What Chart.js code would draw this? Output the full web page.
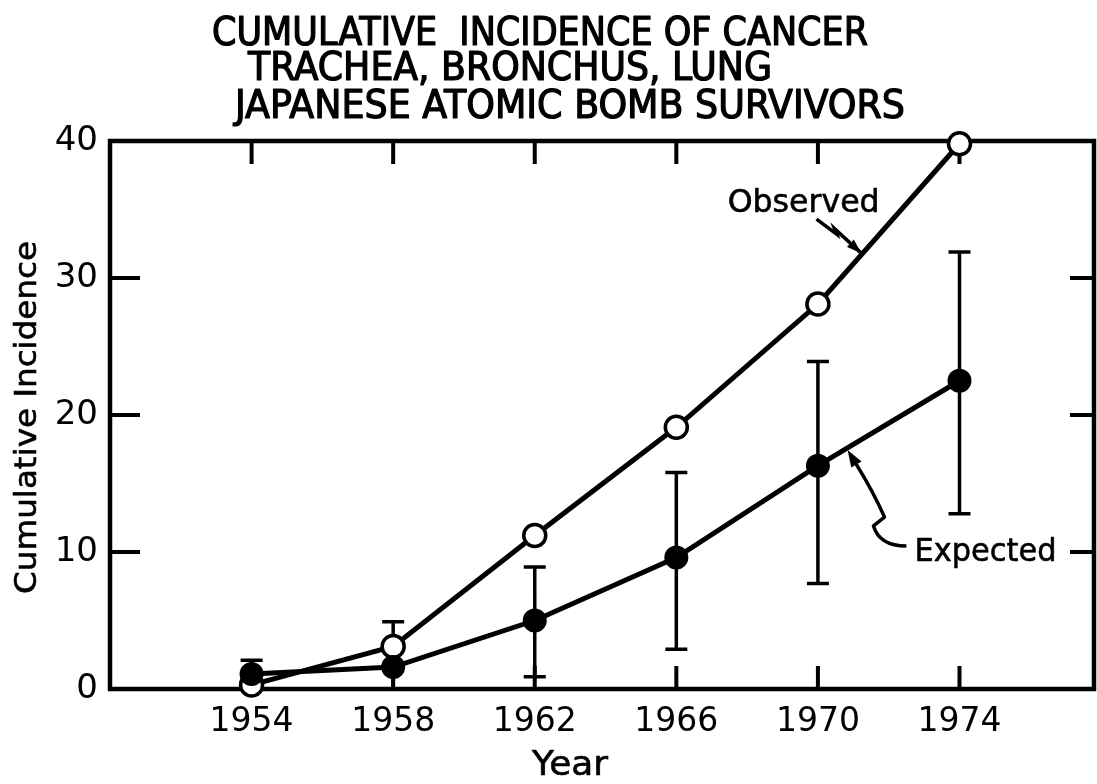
<!DOCTYPE html>
<html>
<head>
<meta charset="utf-8">
<script src="https://cdn.jsdelivr.net/npm/chart.js@4/dist/chart.umd.min.js"></script>
<style>
  html, body { margin: 0; padding: 0; background: #fff; }
  canvas { display: block; }
</style>
</head>
<body>
<canvas id="myChart" width="1097" height="784"></canvas>
<script>
// data
var years = [1954, 1958, 1962, 1966, 1970, 1974];
var observed = [0.3, 3.1, 11.2, 19.1, 28.1, 39.8];
var expected = [1.1, 1.6, 5.0, 9.6, 16.3, 22.5];
var expLow = [0, 0, 0.9, 2.9, 7.7, 12.8];
var expHigh = [2.1, 4.9, 8.9, 15.8, 23.9, 31.9];
var yearTicks = [1954, 1958, 1962, 1966, 1970, 1974];
var incTicks = [0, 10, 20, 30, 40];

var titleLines = [
  'CUMULATIVE  INCIDENCE OF CANCER',
  'TRACHEA, BRONCHUS, LUNG',
  'JAPANESE ATOMIC BOMB SURVIVORS'
];

var FONT = '"DejaVu Sans", sans-serif';

function pts(ys) {
  return years.map(function (yr, i) { return { x: yr, y: ys[i] }; });
}

// write text squeezed/stretched to a given width, optional outline to thicken it
function fitText(ctx, txt, x, y, w, thick) {
  var m = ctx.measureText(txt).width;
  ctx.save();
  ctx.translate(x, y);
  ctx.scale(w / m, 1);
  ctx.fillText(txt, 0, 0);
  if (thick) {
    ctx.lineWidth = thick;
    ctx.lineJoin = 'round';
    ctx.strokeText(txt, 0, 0);
  }
  ctx.restore();
}

function arrowHead(ctx, fx, fy, tx, ty, len, half) {
  var a = Math.atan2(ty - fy, tx - fx);
  ctx.beginPath();
  ctx.moveTo(tx, ty);
  ctx.lineTo(tx - len * Math.cos(a) + half * Math.sin(a), ty - len * Math.sin(a) - half * Math.cos(a));
  ctx.lineTo(tx - len * Math.cos(a) - half * Math.sin(a), ty - len * Math.sin(a) + half * Math.cos(a));
  ctx.closePath();
  ctx.fill();
}

var decor = {
  id: 'decor',
  beforeDatasetsDraw: function (chart) {
    var ctx = chart.ctx, a = chart.chartArea, x = chart.scales.x, y = chart.scales.y;
    ctx.save();
    ctx.strokeStyle = '#000';
    ctx.lineCap = 'butt';
    // frame
    ctx.lineWidth = 4.5;
    ctx.strokeRect(a.left, a.top, a.right - a.left, a.bottom - a.top);
    // inward ticks on all four sides
    ctx.lineWidth = 4;
    ctx.beginPath();
    yearTicks.forEach(function (v) {
      var px = x.getPixelForValue(v);
      ctx.moveTo(px, a.top); ctx.lineTo(px, a.top + 23);
      ctx.moveTo(px, a.bottom); ctx.lineTo(px, a.bottom - 23);
    });
    incTicks.slice(1, -1).forEach(function (v) {
      var py = y.getPixelForValue(v);
      ctx.moveTo(a.left, py); ctx.lineTo(a.left + 30, py);
      ctx.moveTo(a.right, py); ctx.lineTo(a.right - 24, py);
    });
    ctx.stroke();
    // error bars on expected
    ctx.lineWidth = 3.5;
    ctx.beginPath();
    years.forEach(function (yr, i) {
      var px = x.getPixelForValue(yr);
      var lo = y.getPixelForValue(expLow[i]);
      var hi = y.getPixelForValue(expHigh[i]);
      ctx.moveTo(px, lo); ctx.lineTo(px, hi);
      ctx.moveTo(px - 11, hi); ctx.lineTo(px + 11, hi);
      ctx.moveTo(px - 11, lo); ctx.lineTo(px + 11, lo);
    });
    ctx.stroke();
    ctx.restore();
  },
  afterDraw: function (chart) {
    var ctx = chart.ctx, x = chart.scales.x, y = chart.scales.y;
    function at(xv, yv) { return [x.getPixelForValue(xv), y.getPixelForValue(yv)]; }
    ctx.save();
    ctx.fillStyle = '#000';
    ctx.strokeStyle = '#000';
    ctx.textBaseline = 'alphabetic';
    ctx.textAlign = 'left';

    // title, three staggered lines
    ctx.font = '39px "Liberation Sans Narrow", "DejaVu Sans Condensed", sans-serif';
    fitText(ctx, titleLines[0], 212, 45, 656, 1.2);
    fitText(ctx, titleLines[1], 248, 80, 524, 1.2);
    fitText(ctx, titleLines[2], 235, 118, 670, 1.2);

    // axis titles
    ctx.font = '33px ' + FONT;
    fitText(ctx, 'Year', 532, 775, 76, 0.6);
    ctx.save();
    ctx.translate(36, 418);
    ctx.rotate(-Math.PI / 2);
    ctx.font = '30px ' + FONT;
    fitText(ctx, 'Cumulative Incidence', -176, 0, 353, 0.6);
    ctx.restore();

    // series labels
    ctx.font = '32px ' + FONT;
    var o = at(1967.45, 34.8);
    fitText(ctx, 'Observed', o[0], o[1], 152, 0.6);
    var e = at(1972.73, 9.35);
    fitText(ctx, 'Expected', e[0], e[1], 142, 0.6);

    // observed leader with zigzag
    ctx.lineWidth = 3.5;
    ctx.lineJoin = 'miter';
    var p1 = at(1969.96, 34.3), p2 = at(1970.53, 33.2), p3 = at(1970.47, 33.6), p4 = at(1971.23, 31.8);
    ctx.beginPath();
    ctx.moveTo(p1[0], p1[1]); ctx.lineTo(p2[0], p2[1]); ctx.lineTo(p3[0], p3[1]); ctx.lineTo(p4[0], p4[1]);
    ctx.stroke();
    arrowHead(ctx, p3[0], p3[1], p4[0], p4[1], 15, 5);

    // expected leader, curly
    var q0 = at(1972.50, 10.44), c1 = at(1971.74, 10.44), q1 = at(1971.57, 11.9),
        q2 = at(1971.88, 12.55), c2 = at(1971.57, 14.38), q3 = at(1971.06, 16.5), tip = at(1970.84, 17.45);
    ctx.lineJoin = 'round';
    ctx.beginPath();
    ctx.moveTo(q0[0], q0[1]);
    ctx.quadraticCurveTo(c1[0], c1[1], q1[0], q1[1]);
    ctx.lineTo(q2[0], q2[1]);
    ctx.quadraticCurveTo(c2[0], c2[1], q3[0], q3[1]);
    ctx.stroke();
    arrowHead(ctx, q3[0], q3[1], tip[0], tip[1], 17, 6);
    ctx.restore();
  }
};

function createChart() {
  var ctx = document.getElementById('myChart').getContext('2d');
  new Chart(ctx, {
    type: 'line',
    data: {
      datasets: [
        {
          label: 'Expected',
          data: pts(expected),
          borderColor: '#000',
          borderWidth: 5,
          backgroundColor: '#000',
          pointBackgroundColor: '#000',
          pointBorderColor: '#000',
          pointRadius: 12,
          pointBorderWidth: 0,
          tension: 0,
          clip: false
        },
        {
          label: 'Observed',
          data: pts(observed),
          borderColor: '#000',
          borderWidth: 5,
          pointBackgroundColor: '#fff',
          pointBorderColor: '#000',
          pointRadius: 11,
          pointBorderWidth: 3.5,
          tension: 0,
          clip: false
        }
      ]
    },
    options: {
      responsive: false,
      animation: false,
      devicePixelRatio: 1,
      layout: { autoPadding: false, padding: { top: 141, right: 3, left: 0, bottom: 0 } },
      plugins: {
        legend: { display: false },
        tooltip: { enabled: false },
        title: { display: false }
      },
      scales: {
        x: {
          type: 'linear',
          min: 1950,
          max: 1977.8,
          grid: { display: false, drawTicks: false },
          border: { display: false },
          afterBuildTicks: function (s) { s.ticks = yearTicks.map(function (v) { return { value: v }; }); },
          afterFit: function (s) { s.height = 95; s.paddingLeft = 0; s.paddingRight = 0; },
          ticks: {
            autoSkip: false,
            maxRotation: 0,
            padding: 14,
            color: '#000',
            font: { family: 'DejaVu Sans', size: 33 },
            callback: function (v) { return String(v); }
          }
        },
        y: {
          min: 0,
          max: 40,
          grid: { display: false, drawTicks: false },
          border: { display: false },
          afterBuildTicks: function (s) { s.ticks = incTicks.map(function (v) { return { value: v }; }); },
          afterFit: function (s) { s.width = 110; s.paddingTop = 0; s.paddingBottom = 0; },
          ticks: {
            padding: 12,
            color: '#000',
            font: { family: 'DejaVu Sans', size: 34 }
          }
        }
      }
    },
    plugins: [decor]
  });
}
createChart();
</script>
</body>
</html>
